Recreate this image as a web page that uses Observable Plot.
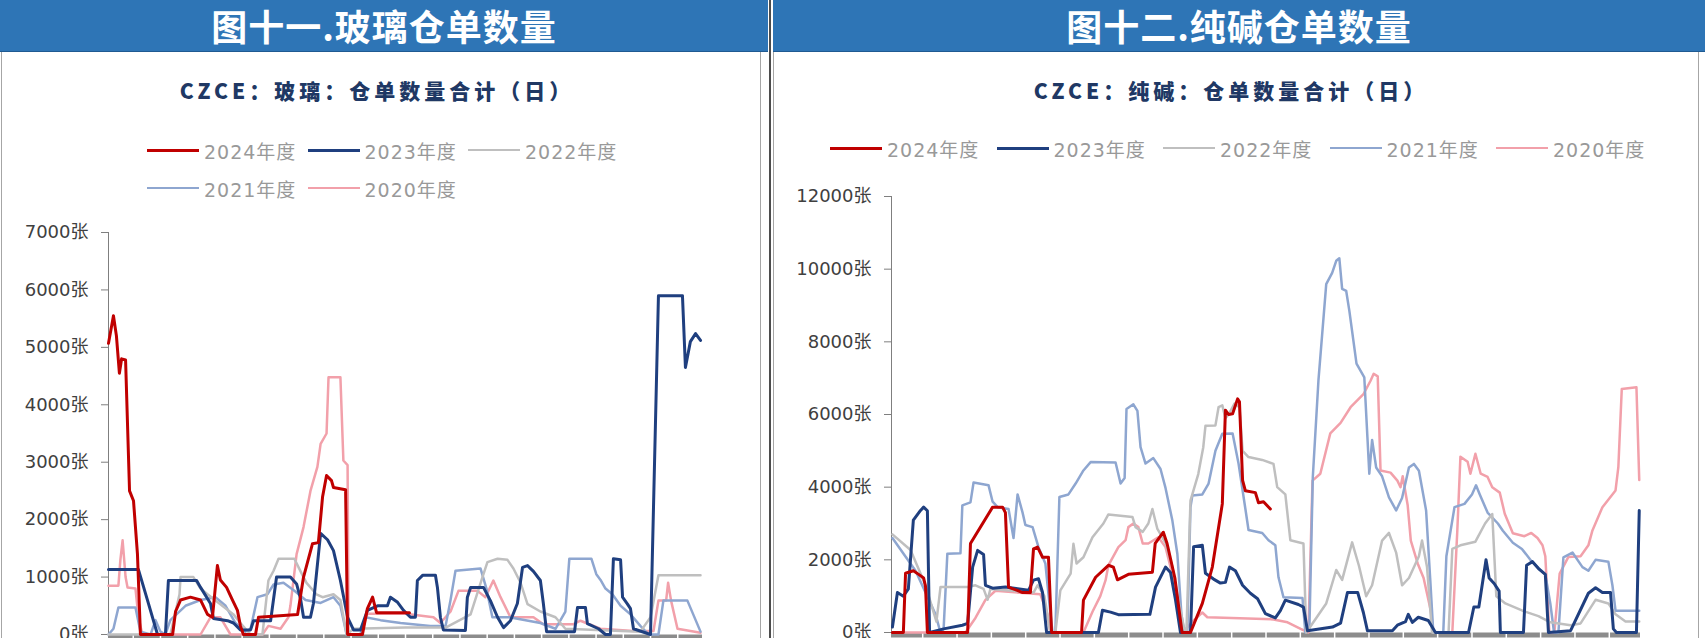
<!DOCTYPE html>
<html><head><meta charset="utf-8">
<script src="https://cdn.jsdelivr.net/npm/d3@7"></script>
<script src="https://cdn.jsdelivr.net/npm/@observablehq/plot@0.6"></script>
<style>
html,body{margin:0;padding:0;width:1705px;height:638px;overflow:hidden;background:#fff;font-family:"DejaVu Sans","Noto Sans CJK SC",sans-serif;}
.header{position:absolute;top:0;height:51px;background:#2e75b6;color:#fff;font-family:"Noto Sans CJK SC",sans-serif;font-weight:700;font-size:36px;line-height:50px;text-align:center;letter-spacing:1px;border-bottom:1px solid #1f5a92;overflow:visible;}
.panel{position:absolute;top:51px;height:620px;border:1px solid #a6a6a6;border-top:none;box-sizing:border-box;}
.sep{position:absolute;top:0;left:769px;width:2px;height:638px;background:#4d4d4d;}
.sub{position:absolute;top:74px;font-family:"Noto Sans CJK SC",sans-serif;font-weight:900;font-size:21px;color:#203864;letter-spacing:4px;white-space:nowrap;transform:translateX(-50%);line-height:32px;}
.legend{position:absolute;display:flex;flex-wrap:wrap;}
.item{display:flex;align-items:center;height:38px;}
.item .sw{width:52px;margin-right:5px;}
.item span{font-family:"DejaVu Sans","Noto Sans CJK SC",sans-serif;font-size:19px;color:#999999;letter-spacing:1px;white-space:nowrap;}
.chart{position:absolute;}
</style></head>
<body>
<div class="panel" style="left:1px;width:760px;"></div>
<div class="panel" style="left:773px;width:926px;"></div>
<div class="header" style="left:0;width:768px;">图十一.玻璃仓单数量</div>
<div class="header" style="left:773px;width:932px;">图十二.纯碱仓单数量</div>
<div class="sep"></div>
<div class="sub" style="left:377px;">CZCE：玻璃：仓单数量合计（日）</div>
<div class="sub" style="left:1231px;">CZCE：纯碱：仓单数量合计（日）</div>
<div class="legend" id="legL" style="left:147px;top:131px;width:482px;"></div>
<div class="legend" id="legR" style="left:830px;top:129px;width:840px;"></div>
<div class="chart" id="chartL" style="left:0;top:200px;"></div>
<div class="chart" id="chartR" style="left:770px;top:180px;"></div>
<script>
const seriesNames = ["2024年度","2023年度","2022年度","2021年度","2020年度"];
const seriesColors = ["#c00000","#1f3f7f","#bfbfbf","#8ea6d0","#f2a0aa"];
const seriesWidths = [3,3,2.5,2.5,2.5];
const xTicks = [10,21,32,43,54,65,76,87,98,109,120,131,142,153,164,175,186,197,208,219,230];
const glassYTicks = [0,1000,2000,3000,4000,5000,6000,7000];
const sodaYTicks = [0,2000,4000,6000,8000,10000,12000];

// 玻璃 (glass) — [trading-day index, 张]
const glass2024 = [[0,5070],[2,5550],[3.2,5200],[4.4,4550],[5.3,4800],[6.9,4780],[8.5,2500],[10.1,2330],[11.7,1400],[12.9,0],[25.9,0],[27.1,400],[29.1,600],[33.1,650],[37.2,600],[40,350],[42,300],[44,1200],[45.2,950],[47.7,820],[50.1,600],[52.1,420],[53.3,150],[54.5,0],[59.4,0],[60.6,300],[76.4,350],[78.8,1000],[82.4,1580],[84.8,1600],[86.5,2400],[88.1,2770],[90.1,2680],[90.9,2560],[95.8,2520],[96.6,0],[102.6,0],[104.6,450],[106.7,650],[108.3,380],[121.6,380]];
const glass2023 = [[0,1130],[12.1,1130],[15.8,590],[19.8,0],[23,0],[24.2,940],[35.6,940],[37.2,820],[41.2,540],[42.4,280],[48.1,240],[50.5,200],[53.3,80],[57.4,80],[58.6,240],[65.5,240],[67.9,1000],[73.5,1000],[76,880],[77.6,620],[78.8,300],[81.6,300],[82.8,540],[85.7,1760],[88.5,1650],[90.9,1460],[93.7,940],[96.6,300],[99,80],[101.8,80],[104.6,420],[108.7,500],[112.7,500],[113.9,650],[116.8,560],[119.2,420],[122,300],[124,300],[124.8,940],[126.9,1030],[132.1,1030],[132.9,820],[134.1,300],[135.3,80],[144.2,70],[145,650],[146.3,820],[151.5,820],[154.3,590],[157.2,300],[159.6,120],[162.4,240],[165.2,540],[167.3,1170],[169.3,1200],[171.7,1100],[174.5,940],[175.7,540],[177,50],[188.3,50],[189.5,470],[192.7,470],[193.5,190],[198,100],[200.8,0],[202.8,0],[204,1320],[206.9,1300],[207.7,650],[209.7,530],[210.9,450],[212.1,100],[219,0],[222.2,5900],[231.9,5900],[233.1,4650],[235.1,5100],[237.2,5240],[239.2,5120]];
const glass2022 = [[0,0],[25,0],[27.1,400],[28.7,700],[29.1,1000],[34.3,1000],[37.2,800],[40,700],[50.5,350],[53.3,200],[57.4,0],[62.2,0],[64.6,940],[66.7,1110],[68.7,1320],[75.1,1320],[77.6,1100],[80,900],[84,700],[86.5,650],[90.9,700],[93.7,600],[96.2,0],[99,100],[120,120],[136.2,120],[146.3,350],[151.1,1000],[153.1,1260],[157.2,1320],[161.2,1300],[163.6,1150],[166.5,900],[169.3,530],[174.5,400],[180.6,300],[184.6,100],[214.9,50],[219,300],[222.2,1030],[239.2,1030]];
const glass2021 = [[0,0],[2,100],[4,470],[10.9,470],[12.9,50],[17,0],[19,250],[21,50],[23,0],[25,250],[31.1,500],[37.2,600],[43.2,650],[47.3,500],[51.3,200],[55.3,50],[57.4,100],[60.2,650],[64.2,700],[66.7,870],[70.7,900],[75.5,750],[79.6,600],[85.7,550],[90.9,650],[93.7,500],[96.2,0],[101.8,0],[103.8,300],[109.9,250],[118,200],[130,150],[136.2,150],[138.2,600],[140.2,1110],[150.3,1150],[152.7,800],[155.1,300],[162,300],[174.5,200],[180.6,100],[184.6,400],[186.2,1320],[195.1,1320],[197.1,1050],[198.8,950],[200.8,800],[203.6,700],[206.9,500],[210.9,350],[214.9,150],[218.2,0],[222.2,0],[224.2,590],[233.9,590],[239.2,50]];
const glass2020 = [[0,850],[4,850],[4.8,1300],[5.7,1640],[6.9,1000],[7.7,820],[10.9,800],[12.1,300],[13.7,0],[37.2,0],[41.2,300],[45.2,300],[49.3,0],[62.2,0],[64.6,150],[69.5,100],[72.7,300],[73.5,500],[76,1400],[78.8,1870],[81.6,2500],[84.4,2920],[85.7,3320],[88.1,3500],[88.9,4480],[93.7,4480],[94.9,3030],[96.6,2950],[97,0],[101.8,0],[104.6,360],[120,360],[131.3,300],[134.1,200],[138.2,400],[141.4,760],[149.1,760],[152.3,650],[155.5,940],[158.4,650],[162.4,300],[171.7,300],[175.7,180],[187.9,180],[190.7,240],[198.8,100],[212.1,60],[220.2,60],[222.2,590],[225.3,590],[226.1,900],[227.3,590],[229.9,100],[239.2,30]];

// 纯碱 (soda ash) — [trading-day index, 张]
const soda2024 = [[0.3,0],[3.8,0],[4.5,1630],[7,1700],[8.7,1600],[10.3,1500],[10.9,1270],[11.5,0],[24.4,0],[25.3,2450],[32.4,3450],[35.6,3450],[36.5,3300],[37.5,1250],[42,1100],[44.5,1100],[45.5,2300],[46.8,2350],[48.4,2070],[50.3,2070],[51.3,0],[60.9,0],[61.5,890],[65.4,1520],[69.5,1850],[71.1,1800],[72.4,1450],[75.9,1600],[83.6,1660],[84.5,2450],[87.1,2760],[88.3,2450],[90.8,1500],[93.1,0],[95.8,0],[99.6,800],[102.8,1800],[106,3540],[107,6120],[108,6000],[109.3,6020],[110.9,6430],[111.5,6350],[112.5,4190],[113.4,3900],[116.6,3850],[117.6,3570],[119.2,3600],[121.4,3400]];
const soda2023 = [[0.3,150],[1.9,1100],[3.8,1000],[5.4,1200],[7,3090],[9.3,3360],[10.3,3450],[11.5,3350],[12.2,0],[16.7,100],[22.7,200],[24.4,250],[26,1800],[27.6,2260],[29.5,2150],[30.1,1300],[32.4,1220],[36.5,1250],[43.9,1160],[45.5,1440],[47.1,1480],[48.4,1100],[49.7,0],[66.3,0],[67.6,610],[70.2,560],[72.7,490],[82.8,500],[84.6,1250],[87.8,1800],[89.4,1650],[91,900],[92.6,0],[95.8,0],[96.8,2360],[99.6,2400],[100.6,1630],[103.2,1470],[105.4,1360],[107,1380],[108.3,1800],[110.2,1700],[112.5,1300],[115,1080],[117.3,930],[119.8,520],[123,400],[124.6,600],[126.2,890],[130.4,770],[132,700],[133.3,50],[141.3,150],[143.9,260],[146.1,1100],[149.4,1100],[151.2,550],[152.5,50],[160.5,50],[162.1,200],[164.7,300],[165.6,500],[166.9,280],[168.8,420],[172,330],[174.3,0],[184.9,0],[186.6,700],[188.2,700],[190.5,2000],[191.5,1500],[193.1,1350],[194.7,1140],[195.1,0],[202.5,0],[203.5,1850],[205.4,1950],[207.3,1760],[209.5,1600],[210.5,0],[217.6,50],[223.3,1080],[225.6,1230],[227.8,1100],[230.4,1100],[231.3,100],[232.3,0],[238.7,0],[239.6,3360]];
const soda2022 = [[0.3,2700],[6.1,2270],[10.9,1300],[14.4,300],[15.7,1250],[24.4,1250],[26.9,1300],[29.5,1200],[30.8,900],[31.7,1200],[45.5,1100],[46.8,1300],[49,1000],[50.9,0],[52.5,0],[54.1,1160],[57.4,1620],[58.3,2440],[59.3,1900],[61.5,2070],[64.4,2620],[67.9,3000],[69.5,3250],[77.2,3180],[78.2,2900],[80.5,2770],[82.3,3000],[83.6,3400],[85.2,2850],[87.8,2470],[90,1800],[91.9,900],[93.8,100],[94.5,0],[95.8,3630],[98.3,4360],[99.9,5100],[100.6,5690],[103.8,5700],[104.8,6200],[106,6250],[107,5900],[108,6000],[109.9,6300],[111.5,6200],[112.5,5000],[114.4,4830],[118.8,4750],[122.4,4640],[123.6,4000],[126.2,3800],[127.8,2540],[132,2450],[132.9,0],[135,260],[139.3,800],[142.5,1720],[144.4,1450],[147.6,2480],[149.8,1830],[152.1,1000],[154,1300],[157.2,2530],[159.4,2740],[161.7,2200],[163.6,1300],[165.8,1500],[169,2100],[170,2530],[171.6,1800],[173.2,0],[178.5,0],[179.7,2300],[182.3,2400],[187.1,2500],[190.2,3000],[192.5,3260],[193.8,1000],[196.7,800],[202.2,600],[207.3,450],[211.1,280],[217.6,200],[220.8,250],[225.6,900],[229.7,800],[232,500],[235.2,300],[239.6,300]];
const soda2021 = [[0.3,2600],[7.7,1700],[14.1,500],[15.7,0],[16.7,100],[17.9,2170],[22.1,2180],[22.7,3500],[25.3,3580],[26.3,4130],[31.1,4050],[32.4,3600],[34,3450],[37.5,3400],[39.1,2600],[40.4,3800],[42,3300],[42.9,2960],[45.2,2900],[47.1,2350],[49.3,1900],[50.6,800],[51.6,0],[52.5,0],[53.8,3730],[56.7,3800],[59,4100],[61.5,4460],[63.8,4690],[71.8,4680],[73.4,4100],[74.7,4250],[75.3,6150],[77.5,6280],[78.8,6100],[79.8,5100],[81.4,4650],[83.9,4800],[86.2,4500],[87.8,3980],[90,3080],[91.6,2160],[92.9,500],[93.8,0],[94.8,0],[95.8,3450],[96.4,3770],[99.6,3800],[101.6,4100],[103.8,5000],[106,5470],[109.3,5480],[111.2,4650],[113.4,3400],[114.4,2820],[118.8,2740],[120.8,2540],[123,2400],[124,1520],[125.6,970],[131.7,950],[132.6,0],[133.9,100],[135,4280],[136.8,6930],[139.3,9590],[141.2,9900],[142.5,10230],[143.5,10300],[144.4,9460],[145.7,9400],[146.7,8860],[149,7400],[151.5,7020],[152.5,5370],[153.1,4370],[154,5300],[155.3,4540],[157.2,4300],[159.4,3720],[161.7,3360],[163.6,3700],[165.8,4540],[167.4,4640],[169,4450],[171.3,3360],[172.6,1500],[173.6,0],[176.8,0],[177.8,2100],[180.4,3450],[183.6,3540],[186,3800],[187.3,4050],[188.5,3800],[191,3300],[194.3,3000],[195.9,2800],[199.1,2470],[202,2300],[205.2,1950],[209.5,1600],[211.1,800],[212.3,0],[213.7,0],[215.3,2070],[218.2,2200],[221.4,1800],[223.3,1700],[225.6,2000],[229.7,1950],[231,1300],[232,600],[239.6,600]];
const soda2020 = [[0.3,0],[23.7,0],[26.9,400],[30.1,900],[33.3,1150],[47.7,1050],[50,500],[50.9,0],[61.5,0],[64.4,570],[66.9,1000],[68.6,1440],[69.5,1850],[72.7,2350],[75,2540],[75.9,2900],[77.5,3000],[79.1,2900],[80.5,2450],[82.3,2450],[85.5,2620],[87.8,2350],[90,1600],[91.9,700],[93.5,0],[96.4,300],[99.6,550],[101.2,420],[122.4,360],[126.9,280],[131.1,100],[133.6,0],[134.9,4180],[137.4,4370],[140.6,5480],[143.9,5770],[147.1,6200],[151.3,6570],[153.5,6930],[154.5,7120],[155.8,7050],[156.7,4460],[159.9,4400],[162.1,4180],[163.1,4000],[163.8,4300],[165.4,3500],[166.4,2530],[168.6,1900],[170.5,1500],[172.8,600],[173.7,0],[179.7,0],[181.3,2800],[182.3,4840],[184.6,4700],[185.5,4370],[187.1,4920],[188.8,4370],[191,4280],[192.5,4000],[194.9,3850],[196.5,3270],[199.1,2730],[202.8,2650],[205,2740],[207,2600],[208.6,2400],[209.5,2100],[210.8,0],[212.4,0],[214.1,1620],[216.9,2080],[220.8,2100],[223.3,2400],[224.6,2810],[227.8,3450],[232,3910],[232.9,4550],[234,6700],[238.7,6750],[239.6,4200]];

const glassSeries = [glass2024, glass2023, glass2022, glass2021, glass2020];
const sodaSeries = [soda2024, soda2023, soda2022, soda2021, soda2020];

function legend(el, itemWidth) {
  seriesNames.forEach((name, i) => {
    const it = document.createElement("div");
    it.className = "item";
    it.style.width = itemWidth + "px";
    const sw = document.createElement("div");
    sw.className = "sw";
    sw.style.height = (i < 2 ? 3 : 2.5) + "px";
    sw.style.background = seriesColors[i];
    const tx = document.createElement("span");
    tx.textContent = name;
    it.appendChild(sw); it.appendChild(tx);
    el.appendChild(it);
  });
}
legend(document.getElementById("legL"), 160.5);
legend(document.getElementById("legR"), 166.5);

function chart(series, yMax, yTicks, w, h, mt, mr, mb, ml) {
  const marks = [
    Plot.ruleY([0], {stroke: "#8c8c8c", strokeWidth: 5, dy: 2.5}),
    Plot.axisX({ticks: xTicks, tickSize: 6, stroke: "#ffffff", strokeWidth: 1.5, tickFormat: () => ""}),
    Plot.ruleX([0], {stroke: "#7f7f7f", strokeWidth: 1}),
    Plot.axisY({ticks: yTicks, tickSize: 7, stroke: "#7f7f7f", tickFormat: () => ""}),
    Plot.text(yTicks, {x: 0, y: d => d, text: d => d + "张", textAnchor: "end", dx: -20, fontSize: 18, fill: "#404040", fontFamily: "DejaVu Sans, Noto Sans CJK SC, sans-serif"})
  ];
  for (let i = series.length - 1; i >= 0; i--) {
    marks.push(Plot.line(series[i], {x: d => d[0], y: d => d[1], stroke: seriesColors[i], strokeWidth: seriesWidths[i], strokeLinejoin: "round"}));
  }
  return Plot.plot({
    width: w, height: h, marginTop: mt, marginRight: mr, marginBottom: mb, marginLeft: ml,
    x: {domain: [0, 240], axis: null},
    y: {domain: [0, yMax], axis: null},
    style: {background: "transparent", fontFamily: "DejaVu Sans, Noto Sans CJK SC, sans-serif", color: "#404040", overflow: "visible"},
    marks
  });
}
document.getElementById("chartL").appendChild(chart(glassSeries, 7000, glassYTicks, 762, 470, 32, 60, 36, 108));
document.getElementById("chartR").appendChild(chart(sodaSeries, 12000, sodaYTicks, 928, 490, 16, 58, 38, 121));
</script>
</body></html>
